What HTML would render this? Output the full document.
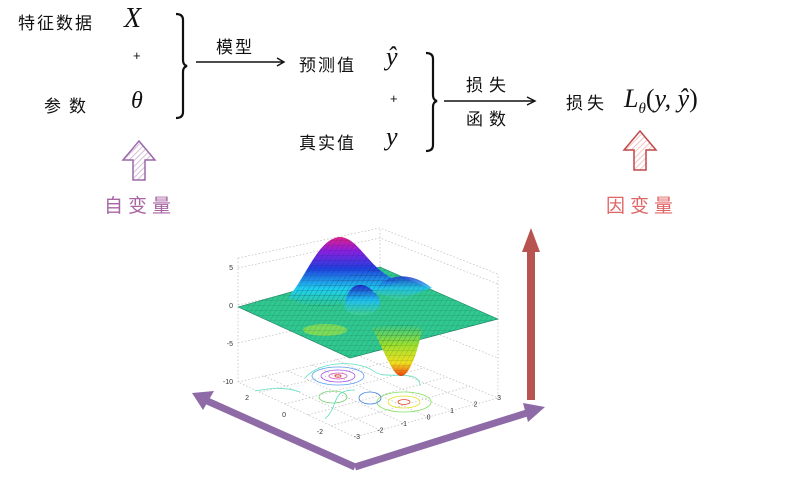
<!DOCTYPE html>
<html><head><meta charset="utf-8">
<style>
html,body{margin:0;padding:0;background:#fff;}
#root{position:relative;width:806px;height:488px;overflow:hidden;font-family:"Liberation Sans","Noto Sans CJK SC",sans-serif;}
.t{position:absolute;font-size:17px;color:#111;white-space:nowrap;letter-spacing:2px;}
.m{position:absolute;font-family:"Liberation Serif","DejaVu Serif",serif;font-style:italic;color:#111;white-space:nowrap;}
</style></head>
<body>
<div id="root">
<div class="t" style="left:18px;top:9px;">特征数据</div>
<div class="m" style="left:124px;top:3px;font-size:28px;">X</div>
<div class="t" style="left:133px;top:48px;font-size:13px;">+</div>
<div class="t" style="left:44px;top:92px;letter-spacing:8px;">参数</div>
<div class="m" style="left:131px;top:88px;font-size:24px;">θ</div>
<div class="t" style="left:216px;top:33px;">模型</div>
<div class="t" style="left:299px;top:51px;">预测值</div>
<div class="m" style="left:386px;top:42px;font-size:26px;">ŷ</div>
<div class="t" style="left:390px;top:91px;font-size:13px;">+</div>
<div class="t" style="left:299px;top:129px;">真实值</div>
<div class="m" style="left:386px;top:122px;font-size:26px;">y</div>
<div class="t" style="left:466px;top:71px;letter-spacing:6px;">损失</div>
<div class="t" style="left:466px;top:105px;letter-spacing:6px;">函数</div>
<div class="t" style="left:566px;top:89px;letter-spacing:4px;">损失</div>
<div class="m" style="left:624px;top:84px;font-size:26px;">L<sub style="font-size:15px">θ</sub><span style="font-style:normal">(</span>y, ŷ<span style="font-style:normal">)</span></div>
<div class="t" style="left:104px;top:191px;font-size:19px;color:#a865a4;letter-spacing:5px;">自变量</div>
<div class="t" style="left:606px;top:191px;font-size:19px;color:#e06666;letter-spacing:5px;">因变量</div>

<svg width="806" height="488" style="position:absolute;left:0;top:0">
<defs>
<pattern id="hp" width="4" height="4" patternUnits="userSpaceOnUse" patternTransform="rotate(45)"><line x1="0" y1="0" x2="0" y2="4" stroke="#c9a6cf" stroke-width="1.5"/></pattern>
<pattern id="hr" width="4" height="4" patternUnits="userSpaceOnUse" patternTransform="rotate(45)"><line x1="0" y1="0" x2="0" y2="4" stroke="#f2b0b0" stroke-width="1.5"/></pattern>
<pattern id="mesh" width="5" height="5" patternUnits="userSpaceOnUse" patternTransform="skewX(-30)"><path d="M0,0 H5 M0,0 V5" stroke="#000" stroke-width="0.5" opacity="0.35" fill="none"/></pattern>
<linearGradient id="pk" x1="0" y1="0" x2="0" y2="1"><stop offset="0" stop-color="#e0208a"/><stop offset="0.2" stop-color="#8a20e0"/><stop offset="0.45" stop-color="#2040e0"/><stop offset="0.75" stop-color="#20d0f0"/><stop offset="1" stop-color="#30c890"/></linearGradient>
<linearGradient id="vl" x1="0" y1="0" x2="0" y2="1"><stop offset="0" stop-color="#30c890"/><stop offset="0.4" stop-color="#9be030"/><stop offset="0.75" stop-color="#f0e020"/><stop offset="1" stop-color="#f04010"/></linearGradient>
<linearGradient id="pk2" x1="0" y1="0" x2="0" y2="1"><stop offset="0" stop-color="#2030d0"/><stop offset="0.5" stop-color="#20c0f0"/><stop offset="1" stop-color="#40d090"/></linearGradient>
</defs>
<path d="M176,14 q7,0 7,6 v40 q0,5 4,6 q-4,1 -4,6 v40 q0,6 -7,6" fill="none" stroke="#111" stroke-width="2.2"/>
<path d="M196,62 L283,62 M277,58 L284,62 L277,66" fill="none" stroke="#111" stroke-width="1.4"/>
<path d="M426,53 q7,0 7,6 v36 q0,5 4,6 q-4,1 -4,6 v38 q0,6 -7,6" fill="none" stroke="#111" stroke-width="2.2"/>
<path d="M444,101 L534,101 M527,97 L535,101 L527,105" fill="none" stroke="#111" stroke-width="1.4"/>
<path d="M139,141 L155,160 L145,160 L145,180 L133,180 L133,160 L123,160 Z" fill="url(#hp)" stroke="#9b6aa8" stroke-width="1.5"/>
<path d="M640,131 L656,150 L646,150 L646,170 L634,170 L634,150 L624,150 Z" fill="url(#hr)" stroke="#c04848" stroke-width="1.5"/>
<g stroke="#bbb" stroke-width="0.7" stroke-dasharray="1.5,2" fill="none">
<path d="M238,258 L238,382 L355,437 L498,398 L498,274 M238,382 L380,350 L498,398 M380,350 L380,228 M238,258 L380,228 L498,274"/>
<path d="M238,268 L380,238 L498,284 M238,305 L380,273 L498,320 M238,343 L380,311 L498,358"/>
<path d="M260,392 L401,359 M285,404 L424,368 M308,415 L447,377 M331,426 L470,386 M380,430 L262,375 M404,423 L286,370 M428,417 L310,364 M452,411 L334,359 M475,404 L357,355"/>
</g>
<g font-family="Liberation Sans,sans-serif" font-size="7" fill="#333" id="ticks"></g>
<g fill="none" stroke-width="0.8">
<ellipse cx="338" cy="376" rx="26" ry="9" stroke="#5aa0f0"/>
<ellipse cx="338" cy="376" rx="17" ry="6" stroke="#a050e0"/>
<ellipse cx="338" cy="376" rx="9" ry="3" stroke="#e050c0"/>
<ellipse cx="338" cy="376" rx="3" ry="1.2" stroke="#e03030"/>
<ellipse cx="404" cy="402" rx="27" ry="10" stroke="#80e060"/>
<ellipse cx="404" cy="402" rx="16" ry="6" stroke="#e0e020"/>
<ellipse cx="404" cy="402" rx="6" ry="2.4" stroke="#f04020"/>
<ellipse cx="333" cy="397" rx="14" ry="6" stroke="#70d070"/>
<ellipse cx="370" cy="398" rx="11" ry="6" stroke="#4080e0"/>
<path d="M300,392 C280,385 262,390 255,391 M305,378 C320,360 360,360 375,372 C385,380 420,368 420,386 M325,419 C340,405 330,390 355,390" stroke="#60e0c0"/>
</g>
<g>
<path d="M238,307 L380,267 L498,319 L350,358 Z" fill="#30c890" stroke="#1a8060" stroke-width="0.6"/>
<path d="M372,328 C385,325 415,320 422,330 C418,350 410,376 401,376 C392,376 382,345 372,328 Z" fill="url(#vl)"/>
<path d="M288,297 C305,280 318,238 340,237 C360,238 368,270 400,282 L352,300 C330,312 300,306 288,297 Z" fill="url(#pk)"/>
<path d="M345,300 C352,278 368,283 378,296 C388,312 360,322 345,310 Z" fill="url(#pk2)"/>
<path d="M372,292 C385,274 410,270 432,288 L400,300 Z" fill="url(#pk2)" opacity="0.85"/>
<ellipse cx="325" cy="330" rx="22" ry="6" fill="#8ee050" opacity="0.8"/>
<path d="M238,307 L380,267 L498,319 L350,358 Z" fill="url(#mesh)"/>
<path d="M288,297 C305,280 318,238 340,237 C360,238 368,270 400,282 L352,300 C330,312 300,306 288,297 Z" fill="url(#mesh)"/>
<path d="M372,328 C385,325 415,320 422,330 C418,350 410,376 401,376 C392,376 382,345 372,328 Z" fill="url(#mesh)"/>
</g>
<path d="M355,467 L205,400" stroke="#8e6ba6" stroke-width="7"/>
<path d="M192,393 L214,391 L203,410 Z" fill="#8e6ba6"/>
<path d="M355,467 L530,412" stroke="#8e6ba6" stroke-width="7"/>
<path d="M545,407 L523,403 L528,422 Z" fill="#8e6ba6"/>
<rect x="527" y="250" width="8" height="150" fill="#b85450"/>
<path d="M531,228 L540,252 L522,252 Z" fill="#b85450"/>
</svg>
</div>
<script>
const zTicks = ["5","0","-5","-10"];
const xTicks = ["2","0","-2"];
const yTicks = ["-3","-2","-1","0","1","2","3"];
const g = document.getElementById('ticks');
function txt(s,x,y){
  const t=document.createElementNS('http://www.w3.org/2000/svg','text');
  t.setAttribute('x',x);t.setAttribute('y',y);t.setAttribute('text-anchor','end');t.textContent=s;
  
  
  g.appendChild(t);
}
zTicks.forEach((s,i)=>txt(s,233,270+i*38));
xTicks.forEach((s,i)=>txt(s,249+i*37,400+i*17));
yTicks.forEach((s,i)=>txt(s,360+i*23.5,439-i*6.5));
</script>
</body></html>
